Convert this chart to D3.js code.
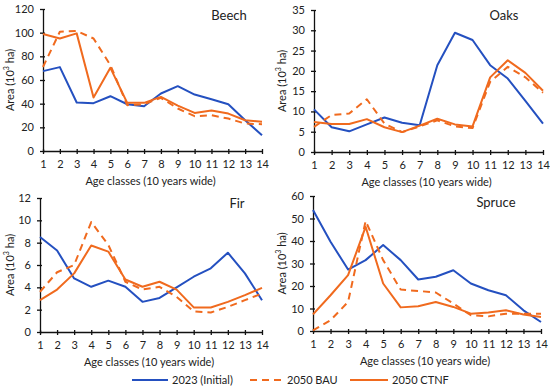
<!DOCTYPE html>
<html>
<head>
<meta charset="utf-8">
<script src="https://cdn.jsdelivr.net/npm/d3@7"></script>
<style>
  body { margin: 0; background: #fff; }
  svg text { font-family: Lato, "Open Sans", sans-serif; fill: #222; }
</style>
</head>
<body>
<svg id="viz"></svg>
<script>
// age classes
const ages = d3.range(1, 15);

// Beech
const beech2023 = [67.5, 70.9, 41, 40.4, 46.3, 39.5, 37.8, 48.6, 54.8, 47.7, 43.8, 39.5, 26, 13.3];
const beechBAU  = [71, 100.8, 101.4, 95.1, 72.6, 38.7, 39.5, 44.9, 35.9, 29.4, 30.2, 27.4, 23.2, 22.6];
const beechCTNF = [98.8, 95.1, 99.4, 45.2, 70.3, 40.7, 40.7, 45.7, 38.4, 32.2, 34.2, 31.6, 26, 24.8];

// Oaks
const oaks2023 = [10.5, 6.1, 5.1, 6.8, 8.5, 7.2, 6.6, 21.4, 29.4, 27.6, 21.4, 18.1, 12.6, 7.0];
const oaksBAU  = [6.2, 9.1, 9.5, 13.0, 7.0, 4.9, 6.3, 7.8, 6.3, 5.9, 17.3, 21.0, 18.4, 14.6];
const oaksCTNF = [7.4, 6.9, 6.9, 8.1, 6.1, 4.9, 6.5, 8.2, 6.8, 6.3, 18.4, 22.6, 19.5, 15.1];

// Fir
const fir2023 = [8.5, 7.3, 4.8, 4.05, 4.6, 4.05, 2.7, 3.05, 4.0, 4.95, 5.7, 7.1, 5.25, 2.85];
const firBAU  = [3.6, 5.35, 6.0, 9.85, 7.8, 4.5, 3.8, 4.05, 3.15, 1.85, 1.75, 2.25, 2.85, 3.45];
const firCTNF = [2.85, 3.8, 5.25, 7.75, 7.2, 4.7, 4.05, 4.5, 3.8, 2.2, 2.2, 2.7, 3.3, 3.95];

// Spruce
const spruce2023 = [53.8, 39.7, 27.3, 31.5, 38.2, 31.5, 22.9, 24.1, 27.0, 21.1, 18.1, 15.9, 9.2, 4.0];
const spruceBAU  = [0.3, 4.8, 12.9, 48.9, 31.5, 18.4, 17.8, 17.1, 12.2, 7.0, 6.5, 7.7, 7.7, 7.7];
const spruceCTNF = [7.4, 15.9, 24.8, 46.3, 21.1, 10.5, 11.0, 12.9, 10.7, 7.7, 8.2, 9.2, 7.3, 6.2];

const seriesNames = ['2023 (Initial)', '2050 BAU', '2050 CTNF'];

var width = 550, height = 392;
var blue = '#2450c0', orange = '#f06a1e';
var styles = [
    {color: blue, dash: null},
    {color: orange, dash: '7,5'},
    {color: orange, dash: null}
];

var svg = d3.select('#viz').attr('width', width).attr('height', height);

// panel boxes (plot area)
var panels = [
    {title: 'Beech',  yMax: 120, step: 20, data: [beech2023, beechBAU, beechCTNF],    x0: 43,  x1: 262, y0: 9,   y1: 151, labelX: 11,  titleX: 229, titleY: 20},
    {title: 'Oaks',   yMax: 35,  step: 5,  data: [oaks2023, oaksBAU, oaksCTNF],       x0: 314, x1: 543, y0: 10,  y1: 152, labelX: 283, titleX: 504, titleY: 20},
    {title: 'Fir',    yMax: 12,  step: 2,  data: [fir2023, firBAU, firCTNF],          x0: 40,  x1: 262, y0: 198, y1: 332, labelX: 11,  titleX: 237, titleY: 208},
    {title: 'Spruce', yMax: 60,  step: 10, data: [spruce2023, spruceBAU, spruceCTNF], x0: 313, x1: 541, y0: 196, y1: 331, labelX: 283, titleX: 496, titleY: 207}
];

function drawPanel(p){
    var xScale = d3.scaleLinear().domain([1, 14]).range([p.x0, p.x1]);
    var yScale = d3.scaleLinear().domain([0, p.yMax]).range([p.y1, p.y0]);

    var g = svg.append('g');

    var xAxis = d3.axisBottom(xScale).tickValues(ages).tickFormat(d3.format('d'))
                  .tickSizeInner(4).tickSizeOuter(0).tickPadding(5);
    var yAxis = d3.axisLeft(yScale).tickValues(d3.range(0, p.yMax + 0.001, p.step))
                  .tickSizeInner(4).tickSizeOuter(0).tickPadding(5);

    var ya = g.append('g').attr('transform', `translate(${p.x0},0)`).call(yAxis);
    var xa = g.append('g').attr('transform', `translate(0,${p.y1})`).call(xAxis);
    [xa, ya].forEach(a => {
        a.selectAll('path, line').attr('stroke', '#111').attr('stroke-width', 1.3);
        a.selectAll('text').style('font-size', '11px').attr('fill', '#222');
    });
    // ticks cross the axis a bit
    xa.selectAll('.tick line').attr('y1', -2).attr('y2', 3);
    ya.selectAll('.tick line').attr('x1', -3).attr('x2', 2);

    // axis titles
    g.append('text')
        .attr('x', (p.x0 + p.x1) / 2 - 2)
        .attr('y', p.y1 + 34)
        .attr('text-anchor', 'middle')
        .style('font-size', '11px')
        .text('Age classes (10 years wide)');

    var yt = g.append('text')
        .attr('transform', `translate(${p.labelX},${(p.y0 + p.y1) / 2}) rotate(-90)`)
        .attr('text-anchor', 'middle')
        .attr('dominant-baseline', 'middle')
        .style('font-size', '11px');
    yt.append('tspan').text('Area (10');
    yt.append('tspan').attr('dy', -4).style('font-size', '7px').text('3');
    yt.append('tspan').attr('dy', 4).text(' ha)');

    g.append('text')
        .attr('x', p.titleX).attr('y', p.titleY)
        .attr('text-anchor', 'middle')
        .style('font-size', '13px')
        .text(p.title);

    var line = d3.line().x((d, i) => xScale(ages[i])).y(d => yScale(d));

    // order: 2023, BAU, CTNF
    p.data.forEach((vals, k) => {
        g.append('path')
            .datum(vals)
            .attr('d', line)
            .attr('fill', 'none')
            .attr('stroke', styles[k].color)
            .attr('stroke-width', 2)
            .attr('stroke-linejoin', 'round')
            .attr('stroke-dasharray', styles[k].dash);
    });
}

panels.forEach(drawPanel);

// legend
var legendItems = [
    {x: 132, len: 36},
    {x: 250, len: 33},
    {x: 350, len: 38}
];
var legend = svg.append('g').attr('transform', 'translate(0,380)');
legendItems.forEach((it, k) => {
    legend.append('line')
        .attr('x1', it.x).attr('x2', it.x + it.len)
        .attr('y1', 0).attr('y2', 0)
        .attr('stroke', styles[k].color)
        .attr('stroke-width', 2)
        .attr('stroke-dasharray', styles[k].dash);
    legend.append('text')
        .attr('x', it.x + it.len + 4)
        .attr('y', 4)
        .style('font-size', '11px')
        .text(seriesNames[k]);
});
</script>
</body>
</html>
